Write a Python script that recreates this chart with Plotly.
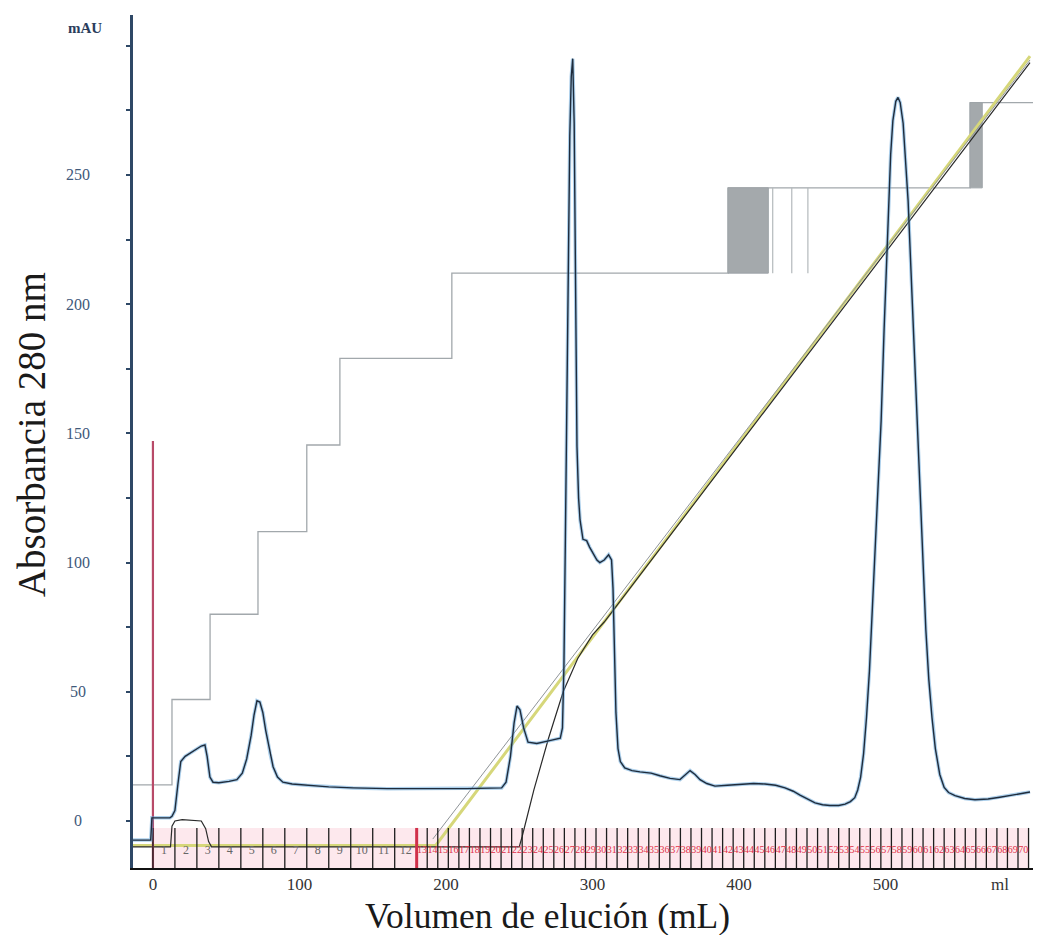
import plotly.graph_objects as go

# ---------------- data ----------------
# UV 280 nm trace: elution volume (mL) and absorbance (mAU)
uv_ml = [-13.6, -1.5, -0.7, 11.6, 13, 15, 17, 18.4, 19, 22, 28, 33, 35.5, 37, 38.9, 41, 45, 52, 57.3, 61,
         64, 67, 69, 71, 73, 75, 77, 80, 82, 85, 88.7, 95, 105, 120, 136.5, 160, 214, 238, 241, 244,
         246.5, 248.5, 250.5, 253, 256, 262, 270, 278, 279.5, 280.5, 281.5, 282.5, 283.5, 284.5, 285.5,
         286.5, 287.5, 288.5, 289.4, 290.5, 291.5, 293.5, 296, 298, 300, 303, 305, 308, 311, 313, 314,
         315, 316, 317.4, 319, 322, 327, 332.4, 340, 346, 353, 359.7, 363, 366.6, 370, 373.4, 378, 383.6,
         392, 400.7, 410, 417.7, 425, 431.4, 437, 441.6, 447, 451.9, 457, 462, 468, 472.4, 476, 479, 481,
         483, 485, 487, 489, 491, 493, 495, 497, 499, 501.7, 503.5, 505, 507, 508.5, 510, 512, 513.5,
         515.4, 517, 519, 521, 523.5, 525.5, 527.5, 529.5, 531.7, 534, 537, 540, 543, 547.4, 554, 561,
         570, 578, 588, 598.6]
uv_mau = [-7.4, -7.4, 1.2, 1.2, 1.8, 4, 14, 21, 23, 25, 27, 29, 29.4, 25, 17, 15, 14.8, 15.3, 16, 18.5,
          24, 33, 41, 46.5, 46, 42, 35, 26, 21, 17, 15, 14.3, 13.8, 13.2, 12.8, 12.5, 12.5, 12.8, 15, 25,
          38, 44.5, 43, 36, 30.5, 30, 31, 32, 36, 60, 110, 170, 225, 265, 288,
          295, 270, 200, 145, 125, 116.5, 109, 108.5, 106, 104, 101, 100, 101, 103, 101, 90,
          65, 42, 28, 23, 20.5, 19.5, 19, 18.5, 17.5, 16.5, 16, 17.5, 19.5, 18, 16, 14.5, 13.5,
          13.8, 14.2, 14.5, 14.3, 13.8, 12.8, 11.5, 10, 8.3, 7, 6.3, 6, 6, 6.5, 7.5, 9, 12,
          17, 26, 40, 58, 82, 105, 128, 155, 190, 235, 258, 271, 278.5, 280, 278, 270, 258,
          240, 218, 190, 160, 124, 98, 74, 55, 40, 28, 18, 13, 11, 9.8, 8.7, 8.2,
          8.5, 9.2, 10.2, 11.2]

# Conductivity trace
cond_ml = [-13.6, 12, 13, 15, 20, 33, 36, 38, 40, 250, 252, 260, 270, 280, 290, 300, 308, 598.6]
cond_val = [-10, -10, -2, 0, 0.5, 0, -3, -8, -10, -10, -6, 12, 32, 50, 63, 72, 77, 293.5]

# Gradient (%B) line and its companion trace
grad_ml = [-13.6, 193, 598.6]
grad_val = [-9.5, -9.5, 296]
grad2_ml = [191, 598.6]
grad2_val = [-7, 294.5]

# Step (concentration) trace
step_ml = [-13.6, 13, 39, 71.7, 105, 127.6, 204, 392.5, 557.7, 602]
step_val = [14, 47, 80, 112, 145.5, 179, 212, 245, 278, 278]
# dense switching blocks on the step trace
block_start = [392.5, 557.7]
block_end = [420, 566]
block_low = [212, 245]
block_high = [245, 278]
extra_switch_ml = [423, 436, 447]
extra_switch_low = 212
extra_switch_high = 245

# Injection mark
inject_ml = 0
inject_top = 147

# Fractions
frac_volumes = [15] * 12 + [7.2] * 58
frac_labels = [str(i) for i in range(1, 71)]

# Axis ticks
x_ticks = [0, 100, 200, 300, 400, 500]
y_labels = [0, 50, 100, 150, 200, 250]
y_marks = [0, 25, 50, 75, 100, 125, 150, 175, 200, 225, 250, 275, 300]

X_RANGE = [-13.6, 602]
Y_RANGE = [-18.2, 311.9]
STRIP_TOP = -2.7
LABEL_Y = -11.6

SERIF = "Liberation Serif"

fig = go.Figure()

# pink fraction strip background
edges = [0.0]
for v in frac_volumes:
    edges.append(edges[-1] + v)
fig.add_shape(type="rect", xref="x", yref="y", x0=edges[0], x1=edges[-1], y0=Y_RANGE[0], y1=STRIP_TOP,
              fillcolor="rgba(250,205,215,0.45)", line_width=0, layer="below")

# step trace
fig.add_trace(go.Scatter(x=step_ml, y=step_val, mode="lines", line=dict(color="#a2a8ac", width=1.3, shape="hv"),
                         hoverinfo="skip"))
for s, e, lo, hi in zip(block_start, block_end, block_low, block_high):
    fig.add_trace(go.Scatter(x=[s, e, e, s, s], y=[lo, lo, hi, hi, lo], mode="lines", fill="toself",
                             fillcolor="#a4a9ac", line=dict(color="#9ea4a8", width=1), hoverinfo="skip"))
xs, ys = [], []
for xv in extra_switch_ml:
    xs += [xv, xv, None]
    ys += [extra_switch_low, extra_switch_high, None]
fig.add_trace(go.Scatter(x=xs, y=ys, mode="lines", line=dict(color="#b4b9bc", width=1.2), hoverinfo="skip"))

# gradient lines
fig.add_trace(go.Scatter(x=grad_ml, y=grad_val, mode="lines", line=dict(color="#d6d77a", width=3), hoverinfo="skip"))
fig.add_trace(go.Scatter(x=grad2_ml, y=grad2_val, mode="lines", line=dict(color="#8f9498", width=1), hoverinfo="skip"))

# conductivity
fig.add_trace(go.Scatter(x=cond_ml, y=cond_val, mode="lines", line=dict(color="#2a2a2a", width=1.2), hoverinfo="skip"))

# injection mark
fig.add_trace(go.Scatter(x=[inject_ml, inject_ml], y=[Y_RANGE[0], inject_top], mode="lines",
                         line=dict(color="#b84a68", width=2.2), hoverinfo="skip"))

# fraction marks
fx, fy = [], []
for e in edges:
    fx += [e, e, None]
    fy += [STRIP_TOP, Y_RANGE[0], None]
fig.add_trace(go.Scatter(x=fx, y=fy, mode="lines", line=dict(color="#1e1e1e", width=1.3), hoverinfo="skip"))
fig.add_trace(go.Scatter(x=[edges[12], edges[12]], y=[STRIP_TOP, Y_RANGE[0]], mode="lines",
                         line=dict(color="#d0304a", width=3), hoverinfo="skip"))

centers = [(edges[i] + edges[i + 1]) / 2 for i in range(len(frac_volumes))]
fig.add_trace(go.Scatter(x=centers[:12], y=[LABEL_Y] * 12, mode="text", text=frac_labels[:12],
                         textfont=dict(family=SERIF, size=12, color="#666666"), hoverinfo="skip"))
fig.add_trace(go.Scatter(x=centers[12:], y=[LABEL_Y] * len(centers[12:]), mode="text", text=frac_labels[12:],
                         textfont=dict(family=SERIF, size=10, color="#e03048"), hoverinfo="skip"))

# UV trace: light blue halo + dark line
fig.add_trace(go.Scatter(x=uv_ml, y=uv_mau, mode="lines", line=dict(color="rgba(90,160,215,0.5)", width=3.5),
                         hoverinfo="skip"))
fig.add_trace(go.Scatter(x=uv_ml, y=uv_mau, mode="lines", line=dict(color="#1f2c3c", width=1.4),
                         hoverinfo="skip"))

# axes
fig.update_xaxes(range=X_RANGE, showgrid=False, zeroline=False, showline=True, linecolor="#111111", linewidth=2,
                 tickvals=x_ticks, ticktext=[str(v) for v in x_ticks], ticks="",
                 tickfont=dict(family=SERIF, size=17, color="#333333"), ticklabelstandoff=0)
fig.update_yaxes(range=Y_RANGE, showgrid=False, zeroline=False, showline=True, linecolor="#2e4866", linewidth=2.5,
                 tickvals=y_marks, showticklabels=False, ticks="outside", ticklen=4, tickcolor="#2e4866",
                 tickwidth=1.5)

ann = []
for v in y_labels:
    ann.append(dict(x=-0.061, xref="paper", y=v, yref="y", text=str(v), showarrow=False, xanchor="center",
                    yanchor="middle", font=dict(family=SERIF, size=16, color="#40597a")))
ann.append(dict(x=-0.0532, xref="paper", y=306.9, yref="y", text="<b>mAU</b>", showarrow=False, xanchor="center",
                yanchor="middle", font=dict(family=SERIF, size=15, color="#2a3d5c")))
ann.append(dict(x=0.961, xref="paper", y=-0.0188, yref="paper", text="ml", showarrow=False, xanchor="center",
                yanchor="middle", font=dict(family=SERIF, size=17, color="#333333")))
ann.append(dict(x=-0.113, xref="paper", y=0.5076, yref="paper", text="Absorbancia 280 nm", showarrow=False,
                textangle=-90, xanchor="center", yanchor="middle", font=dict(family=SERIF, size=39, color="#1a1a1a")))
ann.append(dict(x=0.459, xref="paper", y=-0.056, yref="paper", text="Volumen de elución (mL)", showarrow=False,
                xanchor="center", yanchor="middle", font=dict(family=SERIF, size=35.5, color="#1a1a1a")))

# the page body adds an 8 px offset; size the figure so the plot area lands where the reference has it
fig.update_layout(width=1033, height=927, margin=dict(l=125, r=6, t=7, b=67), plot_bgcolor="white",
                  paper_bgcolor="white", showlegend=False, annotations=ann)

fig.write_html("out.html")
